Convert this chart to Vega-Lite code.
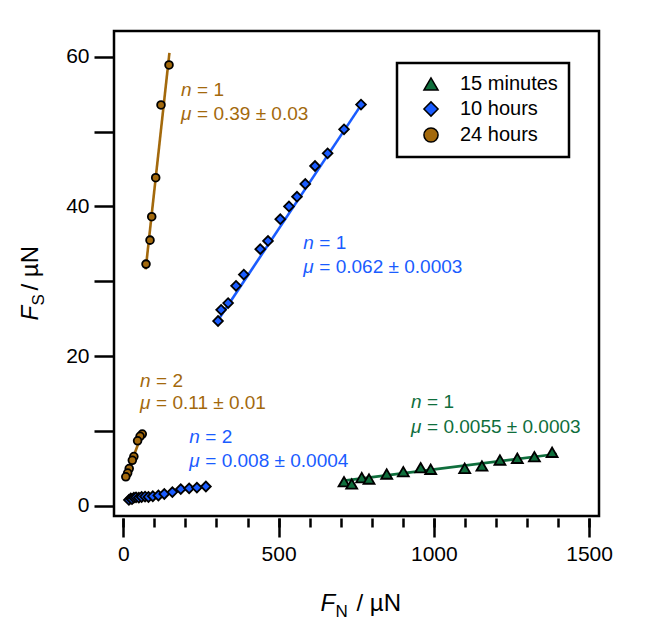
{
  "$schema": "https://vega.github.io/schema/vega-lite/v6.json",
  "width": 485,
  "height": 485,
  "autosize": {"type": "none"},
  "padding": {"left": 114, "top": 31, "right": 65, "bottom": 116},
  "background": "white",
  "config": {
    "font": "Liberation Sans",
    "view": {"stroke": "black", "strokeWidth": 2.5},
    "legend": {"strokeWidth": 2.5},
    "axis": {
      "grid": false,
      "domain": false,
      "tickColor": "black",
      "tickWidth": 2.5,
      "labelColor": "black",
      "labelFontSize": 21,
      "labelFont": "Liberation Sans",
      "titleColor": "black",
      "titleFont": "Liberation Sans",
      "titleFontWeight": "normal",
      "labelFlush": false,
      "labelOverlap": false,
      "format": "d"
    }
  },
  "datasets": {
    "fits": [
      {"series": "15 minutes", "grp": "g1", "x": 712, "y": 3.38},
      {"series": "15 minutes", "grp": "g1", "x": 1396, "y": 6.94},
      {"series": "10 hours", "grp": "b1", "x": 298.5, "y": 24.4},
      {"series": "10 hours", "grp": "b1", "x": 773, "y": 54.0},
      {"series": "10 hours", "grp": "b2", "x": 15, "y": 0.75},
      {"series": "10 hours", "grp": "b2", "x": 270, "y": 2.7},
      {"series": "24 hours", "grp": "r1", "x": 72, "y": 31.6},
      {"series": "24 hours", "grp": "r1", "x": 148.5, "y": 60.5},
      {"series": "24 hours", "grp": "r2", "x": 5, "y": 3.6},
      {"series": "24 hours", "grp": "r2", "x": 62, "y": 9.8}
    ],
    "points": [
      {"series": "15 minutes", "x": 710.8, "y": 3.24},
      {"series": "15 minutes", "x": 735.6, "y": 2.94},
      {"series": "15 minutes", "x": 767.8, "y": 3.78},
      {"series": "15 minutes", "x": 791.3, "y": 3.6},
      {"series": "15 minutes", "x": 848.3, "y": 4.27},
      {"series": "15 minutes", "x": 901.8, "y": 4.58},
      {"series": "15 minutes", "x": 957.8, "y": 5.11},
      {"series": "15 minutes", "x": 990, "y": 4.9},
      {"series": "15 minutes", "x": 1099.5, "y": 5.03},
      {"series": "15 minutes", "x": 1155, "y": 5.34},
      {"series": "15 minutes", "x": 1213, "y": 6.14},
      {"series": "15 minutes", "x": 1269, "y": 6.37},
      {"series": "15 minutes", "x": 1324, "y": 6.58},
      {"series": "15 minutes", "x": 1381, "y": 7.17},
      {"series": "10 hours", "x": 765.5, "y": 53.6},
      {"series": "10 hours", "x": 710.8, "y": 50.3},
      {"series": "10 hours", "x": 658, "y": 47.1},
      {"series": "10 hours", "x": 617.4, "y": 45.4},
      {"series": "10 hours", "x": 586, "y": 43.0},
      {"series": "10 hours", "x": 559.3, "y": 41.3},
      {"series": "10 hours", "x": 533.5, "y": 40.0},
      {"series": "10 hours", "x": 505.5, "y": 38.3},
      {"series": "10 hours", "x": 466, "y": 35.4},
      {"series": "10 hours", "x": 441, "y": 34.3},
      {"series": "10 hours", "x": 388, "y": 30.9},
      {"series": "10 hours", "x": 363, "y": 29.4},
      {"series": "10 hours", "x": 337.5, "y": 27.1},
      {"series": "10 hours", "x": 315, "y": 26.2},
      {"series": "10 hours", "x": 305, "y": 24.7},
      {"series": "10 hours", "x": 18, "y": 0.8},
      {"series": "10 hours", "x": 24, "y": 1.0},
      {"series": "10 hours", "x": 28, "y": 0.9},
      {"series": "10 hours", "x": 34, "y": 1.1},
      {"series": "10 hours", "x": 41, "y": 1.15},
      {"series": "10 hours", "x": 50, "y": 1.1},
      {"series": "10 hours", "x": 59, "y": 1.2},
      {"series": "10 hours", "x": 70, "y": 1.25},
      {"series": "10 hours", "x": 81, "y": 1.2},
      {"series": "10 hours", "x": 95, "y": 1.3},
      {"series": "10 hours", "x": 113, "y": 1.4},
      {"series": "10 hours", "x": 132, "y": 1.6},
      {"series": "10 hours", "x": 158, "y": 1.85},
      {"series": "10 hours", "x": 185, "y": 2.25},
      {"series": "10 hours", "x": 212, "y": 2.35},
      {"series": "10 hours", "x": 237, "y": 2.45},
      {"series": "10 hours", "x": 266, "y": 2.6},
      {"series": "24 hours", "x": 147.2, "y": 58.9},
      {"series": "24 hours", "x": 121.4, "y": 53.55},
      {"series": "24 hours", "x": 104.3, "y": 43.84},
      {"series": "24 hours", "x": 91.5, "y": 38.63},
      {"series": "24 hours", "x": 86, "y": 35.5},
      {"series": "24 hours", "x": 73.1, "y": 32.3},
      {"series": "24 hours", "x": 61, "y": 9.6},
      {"series": "24 hours", "x": 54, "y": 9.3},
      {"series": "24 hours", "x": 46, "y": 8.7},
      {"series": "24 hours", "x": 34, "y": 6.6},
      {"series": "24 hours", "x": 29, "y": 6.1},
      {"series": "24 hours", "x": 19, "y": 5.0},
      {"series": "24 hours", "x": 14, "y": 4.4},
      {"series": "24 hours", "x": 8, "y": 3.9}
    ],
    "notes": [
      {"series": "24 hours", "x": 185.8, "y": 54.75, "sym": "n", "rest": "= 1"},
      {"series": "24 hours", "x": 185.8, "y": 51.55, "sym": "μ", "rest": "= 0.39 ± 0.03"},
      {"series": "10 hours", "x": 579.7, "y": 34.28, "sym": "n", "rest": "= 1"},
      {"series": "10 hours", "x": 579.7, "y": 31.16, "sym": "μ", "rest": "= 0.062 ± 0.0003"},
      {"series": "24 hours", "x": 53.8, "y": 15.93, "sym": "n", "rest": "= 2"},
      {"series": "24 hours", "x": 53.8, "y": 12.91, "sym": "μ", "rest": "= 0.11 ± 0.01"},
      {"series": "10 hours", "x": 212.6, "y": 8.37, "sym": "n", "rest": "= 2"},
      {"series": "10 hours", "x": 212.6, "y": 5.17, "sym": "μ", "rest": "= 0.008 ± 0.0004"},
      {"series": "15 minutes", "x": 926.6, "y": 13.05, "sym": "n", "rest": "= 1"},
      {"series": "15 minutes", "x": 926.6, "y": 9.71, "sym": "μ", "rest": "= 0.0055 ± 0.0003"}
    ]
  },
  "layer": [
    {
      "data": {"name": "fits"},
      "mark": {"type": "line", "strokeWidth": 2.6},
      "encoding": {
        "x": {
          "field": "x", "type": "quantitative",
          "scale": {"domain": [-30, 1532], "nice": false, "zero": false},
          "axis": {
            "orient": "bottom", "values": [0, 500, 1000, 1500], "tickSize": 19, "offset": 2, "labelPadding": 6,
            "title": "F", "titleFontStyle": "italic", "titleFontSize": 24, "titleX": 206, "titleY": 92,
            "titleAlign": "left", "titleBaseline": "alphabetic", "titleAngle": 0
          }
        },
        "y": {
          "field": "y", "type": "quantitative",
          "scale": {"domain": [-1.34, 63.43], "nice": false, "zero": false},
          "axis": {
            "orient": "left", "values": [0, 10, 20, 30, 40, 50, 60], "tickSize": 20, "labelPadding": 5,
            "labelExpr": "datum.value % 20 === 0 ? datum.label : ''",
            "title": "F", "titleFontStyle": "italic", "titleFontSize": 24, "titleX": -77, "titleY": 289,
            "titleAlign": "left", "titleBaseline": "alphabetic", "titleAngle": 270
          }
        },
        "stroke": {"field": "series", "type": "nominal", "legend": null,
          "scale": {"range": ["#1a5cff", "#0f6e3c", "#a3690c"]}},
        "detail": {"field": "grp"}
      }
    },
    {
      "data": {"name": "points"},
      "mark": {"type": "point", "filled": true, "stroke": "black", "strokeWidth": 1.8, "opacity": 1},
      "encoding": {
        "x": {
          "field": "x", "type": "quantitative",
          "axis": {
            "orient": "bottom", "values": [0, 100, 200, 300, 400, 500, 600, 700, 800, 900, 1000, 1100, 1200, 1300, 1400, 1500],
            "tickSize": 9, "offset": 2, "labels": false,
            "title": "N", "titleFontSize": 17, "titleX": 221, "titleY": 98,
            "titleAlign": "left", "titleBaseline": "alphabetic", "titleAngle": 0
          }
        },
        "y": {
          "field": "y", "type": "quantitative",
          "axis": {
            "orient": "left", "ticks": false, "labels": false, "values": [0],
            "title": "S", "titleFontSize": 17, "titleX": -71, "titleY": 274,
            "titleAlign": "left", "titleBaseline": "alphabetic", "titleAngle": 270
          }
        },
        "color": {
          "field": "series", "type": "nominal",
          "scale": {"domain": ["15 minutes", "10 hours", "24 hours"], "range": ["#0f6e3c", "#1a5cff", "#a3690c"]},
          "legend": {
            "orient": "none", "legendX": 283, "legendY": 32, "title": null,
            "labelFontSize": 20, "labelFont": "Liberation Sans", "labelColor": "black",
            "symbolSize": 200, "symbolStrokeColor": "black", "symbolStrokeWidth": 1.5,
            "strokeColor": "black", "fillColor": "white", "padding": 11, "rowPadding": 4,
            "symbolOffset": 13, "labelOffset": 19,
            "encode": {"legend": {"update": {"strokeWidth": {"value": 2.5}}},
                       "symbols": {"update": {"stroke": {"value": "black"}, "strokeWidth": {"value": 1.5}}}}
          }
        },
        "shape": {"field": "series", "type": "nominal",
          "scale": {"domain": ["15 minutes", "10 hours", "24 hours"], "range": ["triangle-up", "diamond", "circle"]}},
        "size": {"condition": [{"test": "datum.series === '24 hours'", "value": 60}, {"test": "datum.series === '15 minutes'", "value": 120}], "value": 95}
      }
    },
    {
      "data": {"name": "notes"},
      "mark": {"type": "text", "fontSize": 19, "fontStyle": "italic", "align": "left", "baseline": "alphabetic"},
      "encoding": {
        "x": {
          "field": "x", "type": "quantitative",
          "axis": {
            "orient": "bottom", "ticks": false, "labels": false, "values": [0], "offset": 2,
            "title": "/ µN", "titleFontSize": 24, "titleX": 242, "titleY": 92,
            "titleAlign": "left", "titleBaseline": "alphabetic", "titleAngle": 0
          }
        },
        "y": {
          "field": "y", "type": "quantitative",
          "axis": {
            "orient": "left", "ticks": false, "labels": false, "values": [0],
            "title": "/ µN", "titleFontSize": 24, "titleX": -77, "titleY": 259,
            "titleAlign": "left", "titleBaseline": "alphabetic", "titleAngle": 270
          }
        },
        "fill": {"field": "series", "type": "nominal", "legend": null,
          "scale": {"range": ["#1a5cff", "#0f6e3c", "#a3690c"]}},
        "text": {"field": "sym"}
      }
    },
    {
      "data": {"name": "notes"},
      "mark": {"type": "text", "fontSize": 19, "align": "left", "baseline": "alphabetic", "dx": 16},
      "encoding": {
        "x": {"field": "x", "type": "quantitative", "axis": null},
        "y": {"field": "y", "type": "quantitative", "axis": null},
        "fill": {"field": "series", "type": "nominal", "legend": null},
        "text": {"field": "rest"}
      }
    }
  ],
  "resolve": {"axis": {"x": "independent", "y": "independent"}}
}
